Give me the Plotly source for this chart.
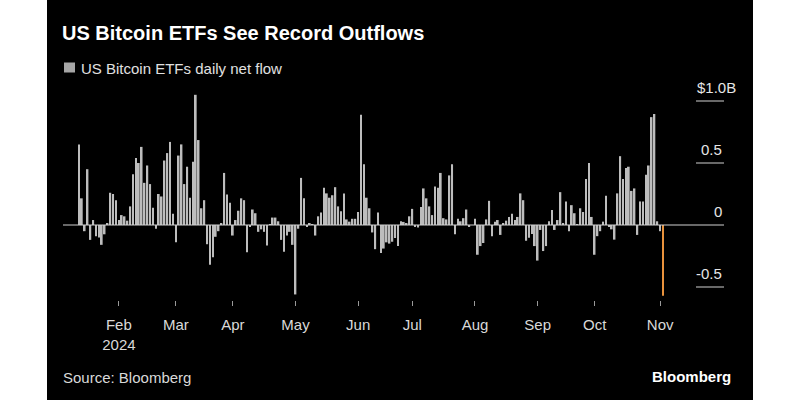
import pandas as pd
import plotly.graph_objects as go

# ---- data (US$ billions, daily net flow of US spot Bitcoin ETFs) ----
holidays = ["2024-01-15", "2024-02-19", "2024-03-29", "2024-05-27",
            "2024-06-19", "2024-07-04", "2024-09-02"]
start_date = "2024-01-11"
end_date = "2024-11-04"

flows_jan = [0.65, 0.215, -0.05, 0.45, -0.12, 0.04, -0.09, -0.10, -0.16, -0.075,
             0.015, 0.26, 0.25, 0.20]
flows_feb = [0.04, 0.08, 0.07, 0.035, 0.15, 0.41, 0.54, 0.50, 0.63, 0.34,
             0.48, 0.33, 0.14, -0.03, 0.25, 0.23, 0.52, 0.58, 0.67, 0.09]
flows_mar = [-0.14, 0.56, 0.65, 0.33, 0.47, 0.22, 0.51, 1.05, 0.685, 0.135,
             0.20, -0.155, -0.32, -0.26, -0.095, -0.05, 0.015, 0.42, 0.245, 0.18]
flows_apr = [-0.085, 0.04, 0.115, 0.215, 0.20, -0.22, -0.01, 0.125, 0.095, -0.055,
             -0.035, -0.055, -0.165, 0.005, 0.06, 0.06, 0.03, -0.12, -0.215, -0.085,
             -0.055, -0.16]
flows_may = [-0.56, -0.03, 0.38, 0.215, -0.01, 0.01, 0.005, -0.085, 0.07, 0.10,
             0.30, 0.255, 0.22, 0.24, 0.305, 0.15, 0.11, 0.255, 0.045, 0.027,
             0.05, 0.05]
flows_jun = [0.105, 0.89, 0.49, 0.22, 0.135, -0.06, -0.195, 0.10, -0.225, -0.19,
             -0.14, -0.15, -0.135, -0.105, -0.17, 0.03, 0.025, 0.01, 0.07]
flows_jul = [0.13, -0.01, -0.02, 0.145, 0.295, 0.215, 0.15, 0.08, 0.31, 0.30,
             0.42, 0.055, 0.045, 0.40, 0.49, -0.075, 0.05, 0.03, 0.055, 0.125,
             -0.015, 0.0]
flows_aug = [0.05, -0.24, -0.17, -0.145, 0.045, 0.195, -0.09, 0.027, 0.04, -0.08,
             0.01, 0.035, 0.065, 0.09, 0.04, 0.065, 0.255, 0.20, -0.127, -0.102,
             -0.072, -0.17]
flows_sep = [-0.287, -0.04, -0.21, -0.17, 0.03, 0.12, -0.04, 0.04, 0.265, 0.013,
             0.19, -0.05, 0.16, 0.095, 0.005, 0.135, 0.105, 0.37, 0.50, 0.065]
flows_oct = [-0.24, -0.09, -0.05, 0.027, 0.235, -0.013, -0.035, -0.118, 0.255, 0.555,
             0.37, 0.46, 0.47, 0.275, 0.295, -0.08, 0.19, 0.19, 0.405, 0.48,
             0.87, 0.895, 0.03]
flows_nov = [-0.05, -0.57]

tick_dates = ["2024-02-01", "2024-03-01", "2024-04-01", "2024-05-01", "2024-06-03",
              "2024-07-01", "2024-08-01", "2024-09-03", "2024-10-01", "2024-11-01"]
tick_labels = ["Feb<br>2024", "Mar", "Apr", "May", "Jun", "Jul", "Aug", "Sep", "Oct", "Nov"]

y_ticks = [1.0, 0.5, 0.0, -0.5]
y_tick_labels = ["$1.0B", "0.5", "0", "-0.5"]

# ---- build ----
dates = [d.strftime("%Y-%m-%d") for d in
         pd.bdate_range(start_date, end_date, freq="C", holidays=holidays)]
flows = (flows_jan + flows_feb + flows_mar + flows_apr + flows_may + flows_jun +
         flows_jul + flows_aug + flows_sep + flows_oct + flows_nov)

GRAY = "#bdbdbd"
ORANGE = "#e8923c"
colors = [GRAY] * (len(flows) - 1) + [ORANGE]
FONT = "Liberation Sans, Arial, sans-serif"

W, H = 800, 400
ML, MR, MT, MB = 63, 76, 80, 100
PW = W - ML - MR
PH = H - MT - MB

fig = go.Figure()
fig.add_trace(go.Bar(x=dates, y=flows, marker=dict(color=colors, line=dict(width=0)),
                     name="US Bitcoin ETFs daily net flow", showlegend=False))

n = len(flows)
px_per_bar = (663 - 79) / (n - 1)
x_lo = -(79 - ML) / px_per_bar
x_hi = (n - 1) + (ML + PW - 663) / px_per_bar

zero_y = 225
px_per_unit = 124
y_hi = (zero_y - MT) / px_per_unit
y_lo = -(MT + PH - zero_y) / px_per_unit

def px_x(p):
    return (p - ML) / PW

def px_y(p):
    return 1 - (p - MT) / PH

shapes = []
# black panel
shapes.append(dict(type="rect", xref="paper", yref="paper",
                   x0=px_x(47), x1=px_x(753), y0=px_y(400), y1=px_y(0),
                   fillcolor="black", line=dict(width=0), layer="below"))
# short gridlines at right, full zero line
for v in y_ticks:
    if v == 0:
        shapes.append(dict(type="line", xref="paper", yref="y", x0=0, x1=1, y0=0, y1=0,
                           line=dict(color="#d0d0d0", width=1), layer="above"))
    else:
        shapes.append(dict(type="line", xref="paper", yref="y", x0=px_x(696), x1=1,
                           y0=v, y1=v, line=dict(color="#d0d0d0", width=1)))
# legend square
shapes.append(dict(type="rect", xref="paper", yref="paper",
                   x0=px_x(64), x1=px_x(75), y0=px_y(72.5), y1=px_y(62.5),
                   fillcolor="#a6a6a6", line=dict(width=0)))

annotations = []
for v, t in zip(y_ticks, y_tick_labels):
    xr = 1.0 if t != "$1.0B" else px_x(738)
    annotations.append(dict(x=xr, y=v, xref="paper", yref="y", text=t,
                            showarrow=False, xanchor="right", yanchor="middle",
                            yshift=14, font=dict(size=15, color="#e6e6e6", family=FONT)))
annotations.append(dict(x=px_x(79), y=px_y(68), xref="paper", yref="paper",
                        text="US Bitcoin ETFs daily net flow", showarrow=False,
                        xanchor="left", yanchor="middle",
                        font=dict(size=15, color="#e0e0e0", family=FONT)))
annotations.append(dict(x=px_x(61), y=px_y(377), xref="paper", yref="paper",
                        text="Source: Bloomberg", showarrow=False,
                        xanchor="left", yanchor="middle",
                        font=dict(size=15, color="#d9d9d9", family=FONT)))
annotations.append(dict(x=px_x(733), y=px_y(376), xref="paper", yref="paper",
                        text="<b>Bloomberg</b>", showarrow=False,
                        xanchor="right", yanchor="middle",
                        font=dict(size=15, color="#ffffff", family=FONT)))
# title
annotations.append(dict(x=px_x(60), y=px_y(33), xref="paper", yref="paper",
                        text="<b>US Bitcoin ETFs See Record Outflows</b>",
                        showarrow=False, xanchor="left", yanchor="middle",
                        font=dict(size=20, color="white", family=FONT)))

fig.update_layout(
    width=W, height=H,
    margin=dict(l=ML, r=MR, t=MT, b=MB),
    paper_bgcolor="white", plot_bgcolor="black",
    bargap=0.4,
    shapes=shapes, annotations=annotations,
    xaxis=dict(type="category", range=[x_lo, x_hi], tickmode="array",
               tickvals=tick_dates, ticktext=tick_labels, ticks="outside",
               ticklen=5, tickcolor="#9a9a9a", tickwidth=1, showgrid=False,
               showline=False, zeroline=False, ticklabelstandoff=6,
               tickfont=dict(size=15, color="#d9d9d9", family=FONT)),
    yaxis=dict(range=[y_lo, y_hi], showgrid=False, zeroline=False,
               showticklabels=False, ticks=""),
    showlegend=False,
)

fig.write_html("out.html",
               config={"displayModeBar": False},
               post_script="document.body.style.margin='0';"
                           "document.body.style.background='white';")
